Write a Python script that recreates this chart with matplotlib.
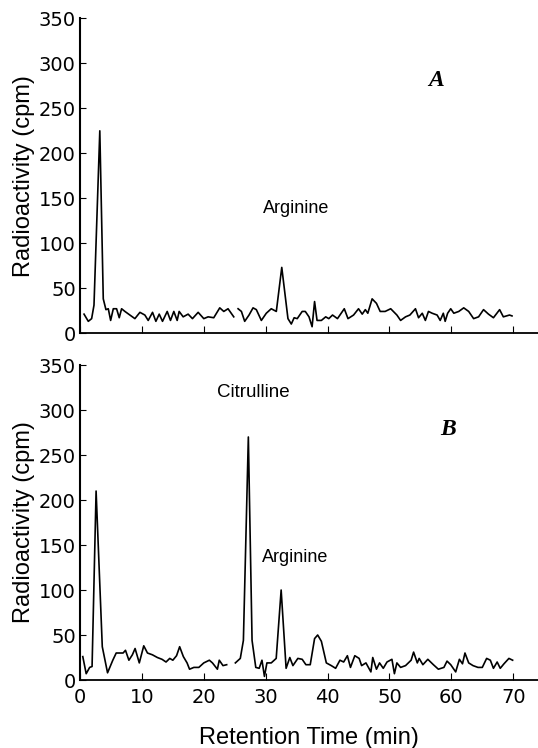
""" Radioactivity chromatograms (A and B)
"""

import numpy as np
import matplotlib.pyplot as plt

# Panel A trace (retention time in min, radioactivity in cpm); nan = gap in trace
time_a = [0.65, 1.34, 1.88, 2.26, 3.2, 3.76, 4.19, 4.57, 4.95, 5.38, 5.91, 6.34,
          6.72, 7.26, 8.06, 8.87, 9.68, 10.48, 11.02, 11.72, 12.26, 12.8, 13.33,
          14.09, 14.62, 15.16, 15.7, 16.02, 16.67, 17.47, 18.17, 19.09, 20.0,
          20.7, 21.61, 22.58, 23.23, 23.92, 24.84, 25.2, 25.54, 26.08, 26.61,
          27.31, 27.96, 28.49, 29.3, 30.1, 30.9, 31.72, 32.6, 33.6, 34.14,
          34.6, 35.1, 35.9, 36.4, 37.0, 37.5, 37.9, 38.3, 39.0, 39.7, 40.2,
          40.8, 41.6, 42.1, 42.7, 43.3, 44.2, 45.0, 45.6, 46.1, 46.5, 47.2,
          47.9, 48.5, 49.3, 50.2, 51.2, 51.8, 52.6, 53.3, 54.2, 54.7, 55.3,
          55.8, 56.3, 56.9, 57.7, 58.2, 58.7, 59.0, 59.4, 59.9, 60.4, 61.2,
          62.0, 62.8, 63.6, 64.4, 65.2, 66.0, 66.8, 67.8, 68.4, 69.4, 69.8]
cpm_a = [21, 13, 16, 31, 225, 38, 26, 27, 14, 27, 27, 17,
         27, 24, 20, 16, 23, 20, 14, 23, 13, 21, 13,
         24, 14, 24, 14, 24, 18, 21, 16, 23, 16,
         18, 17, 28, 24, 27, 18, np.nan, 27, 24, 13,
         20, 28, 26, 14, 22, 27, 24, 73, 16, 10,
         17, 16, 24, 24, 18, 7, 35, 14, 14, 18, 16,
         20, 16, 21, 27, 16, 20, 27, 21, 26, 22, 38,
         33, 24, 24, 27, 20, 14, 18, 20, 27, 17, 22,
         14, 24, 22, 20, 14, 22, 13, 22, 27, 22, 24,
         28, 24, 16, 18, 26, 21, 17, 26, 18, 20, 19]

# Panel B trace
time_b = [0.45, 1.0, 1.56, 1.95, 2.6, 3.6, 4.45, 5.3, 5.85, 6.7, 6.96, 7.35,
          7.9, 8.46, 8.9, 9.58, 10.3, 10.9, 11.7, 12.5, 13.25, 13.9, 14.5,
          15.0, 15.6, 16.1, 16.7, 17.3, 17.7, 18.4, 19.2, 20.0, 20.9, 21.4,
          22.2, 22.5, 23.1, 23.7, 24.4, 25.1, 25.9, 26.4, 27.2, 27.8, 28.4,
          28.95, 29.4, 29.8, 30.2, 30.9, 31.7, 32.5, 33.3, 33.9, 34.4, 35.2,
          35.9, 36.5, 37.2, 37.9, 38.4, 39.0, 39.8, 40.6, 41.3, 42.0, 42.6,
          43.2, 43.7, 44.4, 45.1, 45.5, 46.2, 47.0, 47.3, 47.9, 48.4, 49.0,
          49.6, 50.4, 50.8, 51.2, 51.8, 52.6, 53.5, 53.9, 54.5, 54.8, 55.4,
          56.2, 57.1, 57.9, 58.8, 59.3, 59.9, 60.7, 61.3, 61.8, 62.2, 62.8,
          63.5, 64.3, 65.0, 65.7, 66.3, 66.8, 67.4, 67.9, 68.5, 69.3, 69.9]
cpm_b = [26, 7, 14, 15, 210, 37, 8, 22, 30, 30, 30, 33,
         22, 28, 35, 19, 38, 30, 28, 25, 23, 20, 24,
         22, 27, 37, 26, 19, 12, 14, 14, 19, 22, 19,
         12, 22, 16, 17, np.nan, 19, 24, 44, 270, 44, 14,
         13, 22, 4, 19, 19, 24, 100, 13, 25, 16, 24,
         23, 17, 17, 46, 50, 43, 19, 16, 13, 22, 20,
         27, 14, 27, 24, 16, 19, 9, 25, 12, 19, 13,
         20, 23, 7, 19, 14, 16, 22, 31, 19, 24, 17,
         23, 17, 12, 14, 21, 17, 9, 23, 18, 30, 19,
         16, 14, 14, 24, 22, 13, 20, 13, 18, 24, 22]

y_ticks = [0, 50, 100, 150, 200, 250, 300, 350]
x_ticks = [0, 10, 20, 30, 40, 50, 60, 70]


def style_axes(ax, show_xlabels):
    ax.set_xlim(0, 74)
    ax.set_ylim(0, 350)
    ax.spines['top'].set_visible(False)
    ax.spines['right'].set_visible(False)
    ax.spines['left'].set_linewidth(1.5)
    ax.spines['bottom'].set_linewidth(1.3)
    ax.set_yticks(y_ticks)
    ax.set_xticks(x_ticks)
    ax.tick_params(axis='y', direction='in', length=4, width=0.8, pad=3,
                   labelsize=14, labelfontfamily='DejaVu Sans')
    ax.tick_params(axis='x', direction='in', length=5, width=0.8, pad=6,
                   labelsize=14, labelfontfamily='DejaVu Sans',
                   labelbottom=show_xlabels)
    ax.set_ylabel('Radioactivity (cpm)', fontsize=17, family='Liberation Sans',
                  labelpad=3)


def main():
    fig = plt.figure(figsize=(5.38, 7.48), dpi=100)
    ax_a = fig.add_axes([0.1487, 0.5548, 0.8513, 0.4205])
    ax_b = fig.add_axes([0.1487, 0.0909, 0.8513, 0.4211])

    ax_a.plot(time_a, cpm_a, color='black', lw=1.2)
    ax_b.plot(time_b, cpm_b, color='black', lw=1.2)

    style_axes(ax_a, False)
    style_axes(ax_b, True)
    ax_b.set_xlabel('Retention Time (min)', fontsize=17, family='Liberation Sans',
                    labelpad=14)

    # annotations
    ax_a.text(35.0, 139, 'Arginine', fontsize=13, family='Liberation Sans',
              ha='center', va='center')
    ax_a.text(57.6, 281, 'A', fontsize=17, family='Liberation Serif',
              weight='bold', style='italic', ha='center', va='center')
    ax_b.text(28.0, 319, 'Citrulline', fontsize=13.5, family='Liberation Sans',
              ha='center', va='center')
    ax_b.text(59.4, 278, 'B', fontsize=17, family='Liberation Serif',
              weight='bold', style='italic', ha='center', va='center')
    ax_b.text(34.8, 136, 'Arginine', fontsize=13, family='Liberation Sans',
              ha='center', va='center')

    fig.savefig('out.png', dpi=100)


if __name__ == '__main__':
    main()
